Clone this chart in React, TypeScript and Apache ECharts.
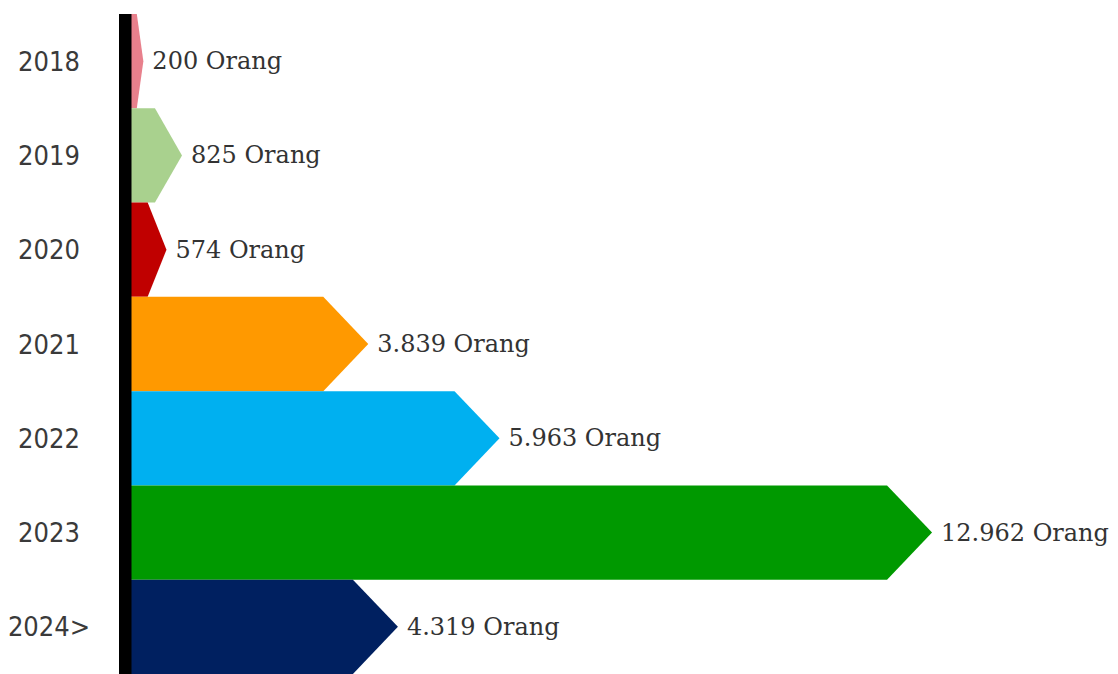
import React, { useEffect, useRef } from "react";
import * as echarts from "echarts";

const categories = ["2018", "2019", "2020", "2021", "2022", "2023", "2024>"];
const values = [200, 825, 574, 3839, 5963, 12962, 4319];
const valueLabels = ["200 Orang", "825 Orang", "574 Orang", "3.839 Orang", "5.963 Orang", "12.962 Orang", "4.319 Orang"];
const colors = ["#e8808c", "#a9d18e", "#c00000", "#ff9900", "#00b0f0", "#009900", "#002060"];

export default function App() {
  const ref = useRef<HTMLDivElement>(null);
  useEffect(() => {
    if (!ref.current) return;
    const chart = echarts.init(ref.current, null, { renderer: "svg" });
    const data = values.map((v, i) => [v, i]);
    chart.setOption({
      animation: false,
      backgroundColor: "#ffffff",
      grid: { left: 131, right: 60, top: 14, bottom: 0 },
      xAxis: { type: "value", min: 0, max: 15000, show: false },
      yAxis: {
        type: "category",
        data: categories,
        inverse: true,
        axisLine: { show: false },
        axisTick: { show: false },
        splitLine: { show: false },
        axisLabel: {
          margin: 82,
          align: "center",
          color: "#3a3a3a",
          fontSize: 27,
          fontFamily: "'Liberation Sans Narrow', 'DejaVu Sans Condensed', sans-serif",
        },
      },
      graphic: [
        {
          type: "rect",
          shape: { x: 119, y: 14, width: 12.5, height: 660 },
          style: { fill: "#000000" },
          z: 10,
        },
      ],
      series: [
        {
          type: "custom",
          data,
          encode: { x: 0, y: 1 },
          renderItem: (params: any, api: any) => {
            const v = api.value(0);
            const c = api.value(1);
            const start = api.coord([0, c]);
            const end = api.coord([v, c]);
            const band = api.size([0, 1])[1];
            const yc = start[1];
            const top = yc - band / 2;
            const bot = yc + band / 2;
            const x0 = start[0];
            const x1 = end[0];
            const len = x1 - x0;
            const tip = Math.min(45, len * 0.53);
            const idx = params.dataIndex;
            return {
              type: "group",
              children: [
                {
                  type: "polygon",
                  shape: {
                    points: [
                      [x0, top],
                      [x1 - tip, top],
                      [x1, yc],
                      [x1 - tip, bot],
                      [x0, bot],
                    ],
                  },
                  style: { fill: colors[idx] },
                },
                {
                  type: "text",
                  x: x1 + 9,
                  y: yc,
                  style: {
                    text: valueLabels[idx],
                    fill: "#333333",
                    fontSize: 24,
                    fontFamily: "'DejaVu Serif', serif",
                    verticalAlign: "middle",
                    align: "left",
                  },
                },
              ],
            };
          },
        },
      ],
    });
    return () => chart.dispose();
  }, []);
  return <div ref={ref} style={{ width: 1118, height: 674, position: "fixed", left: 0, top: 0 }} />;
}
